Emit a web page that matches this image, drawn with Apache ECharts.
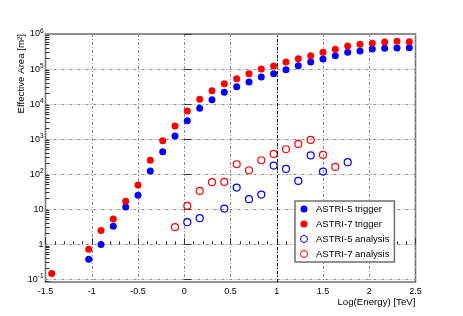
<!DOCTYPE html>
<html><head><meta charset="utf-8">
<script src="https://cdn.jsdelivr.net/npm/echarts@6/dist/echarts.min.js"></script>
<style>html,body{margin:0;padding:0;background:#fff}#c{width:463px;height:316px}</style>
</head><body><div id="c"></div>
<script>
// ---- data (log10(Energy/TeV) bin centres, effective area in m^2) ----
const xTickLabels = ['-1.5', '-1', '-0.5', '0', '0.5', '1', '1.5', '2', '2.5'];
const yDecades = [-1, 0, 1, 2, 3, 4, 5, 6];

const trig5X = [-1.033, -0.9, -0.767, -0.633, -0.5, -0.367, -0.233, -0.1, 0.033, 0.167, 0.3, 0.433, 0.567, 0.7, 0.833, 0.967, 1.1, 1.233, 1.367, 1.5, 1.633, 1.767, 1.9, 2.033, 2.167, 2.3, 2.433];
const trig5Y = [0.373, 0.975, 3.27, 11.6, 25, 123, 438, 1230, 3360, 7590, 13360, 21700, 31400, 42700, 59300, 73700, 95800, 124700, 159000, 193500, 240000, 300000, 327000, 373000, 391000, 399000, 406000];

const trig7X = [-1.433, -1.033, -0.9, -0.767, -0.633, -0.5, -0.367, -0.233, -0.1, 0.033, 0.167, 0.3, 0.433, 0.567, 0.7, 0.833, 0.967, 1.1, 1.233, 1.367, 1.5, 1.633, 1.767, 1.9, 2.033, 2.167, 2.3, 2.433];
const trig7Y = [0.145, 0.72, 2.44, 5.27, 16.9, 49, 250, 903, 2370, 6350, 13700, 24100, 38200, 53000, 73700, 100000, 122000, 159000, 197000, 240000, 300000, 366000, 455000, 508000, 543000, 591000, 619000, 603000];

const ana5X = [0.033, 0.167, 0.433, 0.567, 0.7, 0.833, 0.967, 1.1, 1.233, 1.367, 1.5, 1.767];
const ana5Y = [4.25, 5.52, 10.4, 41.2, 19.2, 26, 175, 141, 64, 342, 118, 219];

const ana7X = [-0.1, 0.033, 0.167, 0.3, 0.433, 0.567, 0.7, 0.833, 0.967, 1.1, 1.233, 1.367, 1.5, 1.633];
const ana7Y = [3.05, 12.4, 33.2, 58.7, 60, 191, 129, 249, 377, 513, 728, 946, 353, 160];

const seriesNames = ['ASTRI-5 trigger', 'ASTRI-7 trigger', 'ASTRI-5 analysis', 'ASTRI-7 analysis'];
const refLineX = 1;

// ---- build ----
const FONT = 'Liberation Sans, Arial, Helvetica, sans-serif';
const Y_MIN = -1.08, Y_MAX = 6;
const pts = (xs, ys) => xs.map((x, i) => [x, Math.log10(ys[i])]);
const minorY = [];
for (let d = -2; d <= 5; d++) for (let k = 2; k <= 9; k++) {
  const v = d + Math.log10(k);
  if (v >= Y_MIN && v <= Y_MAX) minorY.push(v);
}
const gridLine = { show: true, lineStyle: { color: '#8c8c8c', width: 1, type: [3, 2, 1, 2] } };

const chart = echarts.init(document.getElementById('c'), null, { renderer: 'canvas' });
chart.setOption({
  animation: false,
  backgroundColor: '#fff',
  textStyle: { fontFamily: FONT },
  grid: { left: 45.5, right: 47.5, top: 34, bottom: 34, show: true, borderColor: '#6e6e6e', borderWidth: 1.6, backgroundColor: 'transparent' },
  xAxis: {
    type: 'value', min: -1.5, max: 2.5, interval: 0.5,
    axisLine: { show: false },
    axisTick: { show: true, inside: true, length: 6, lineStyle: { color: '#333' } },
    minorTick: { show: true, splitNumber: 5, length: 3, lineStyle: { color: '#333' } },
    splitLine: gridLine,
    axisLabel: { fontSize: 9, color: '#000', margin: 5, fontFamily: FONT,
      formatter: v => { const i = Math.round((v + 1.5) / 0.5); return xTickLabels[i] !== undefined ? xTickLabels[i] : ''; } }
  },
  yAxis: [{
    type: 'value', min: Y_MIN, max: Y_MAX,
    axisLine: { show: false },
    axisTick: { show: true, inside: true, length: 7, customValues: yDecades, lineStyle: { color: '#333' } },
    splitLine: gridLine,
    axisLabel: {
      customValues: yDecades, margin: 2, color: '#000', fontSize: 9, fontFamily: FONT,
      formatter: v => { const e = Math.round(v); if (e === 0) return '1'; if (e === 1) return '10'; return '{b|10}{s|' + e + '}'; },
      rich: { b: { fontSize: 9, fontFamily: FONT, color: '#000' },
              s: { fontSize: 6.5, fontFamily: FONT, color: '#000', verticalAlign: 'top', padding: [0, 0, 5, 0] } }
    }
  }, {
    type: 'value', min: Y_MIN, max: Y_MAX, position: 'left',
    axisLine: { show: false }, axisLabel: { show: false }, splitLine: { show: false },
    axisTick: { show: true, inside: true, length: 4, customValues: minorY, lineStyle: { color: '#333' } }
  }],
  legend: {
    orient: 'vertical', left: 295, top: 201,
    padding: [3, 5, 3, 5], itemWidth: 14, itemHeight: 7, itemGap: 5,
    backgroundColor: '#fff', borderColor: '#6e6e6e', borderWidth: 1.5,
    itemStyle: { borderWidth: 1 },
    textStyle: { fontSize: 9.5, color: '#000', fontFamily: FONT },
    data: seriesNames
  },
  graphic: [{
    type: 'text', rotation: Math.PI / 2, x: 21, y: 34,
    style: { text: 'Effective Area [m²]', align: 'right', verticalAlign: 'middle', font: '9.7px ' + FONT, fill: '#000' }
  }, {
    type: 'text', x: 415.5, y: 302,
    style: { text: 'Log(Energy) [TeV]', align: 'right', verticalAlign: 'middle', font: '9.7px ' + FONT, fill: '#000' }
  }],
  series: [
    { name: seriesNames[0], type: 'scatter', data: pts(trig5X, trig5Y), symbol: 'circle', symbolSize: 7,
      itemStyle: { color: '#0000ff', opacity: 1 },
      markLine: { silent: true, symbol: 'none', label: { show: false }, animation: false,
        lineStyle: { color: '#000', width: 1, type: [3, 2, 1, 2] }, data: [{ xAxis: refLineX }] } },
    { name: seriesNames[1], type: 'scatter', data: pts(trig7X, trig7Y), symbol: 'circle', symbolSize: 7,
      itemStyle: { color: '#ff0000', opacity: 1 } },
    { name: seriesNames[2], type: 'scatter', data: pts(ana5X, ana5Y), symbol: 'circle', symbolSize: 7,
      itemStyle: { color: 'rgba(255,255,255,0)', borderColor: '#0000ff', borderWidth: 1.2, opacity: 1 } },
    { name: seriesNames[3], type: 'scatter', data: pts(ana7X, ana7Y), symbol: 'circle', symbolSize: 7,
      itemStyle: { color: 'rgba(255,255,255,0)', borderColor: '#ff0000', borderWidth: 1.2, opacity: 1 } }
  ]
});
</script>
</body></html>
